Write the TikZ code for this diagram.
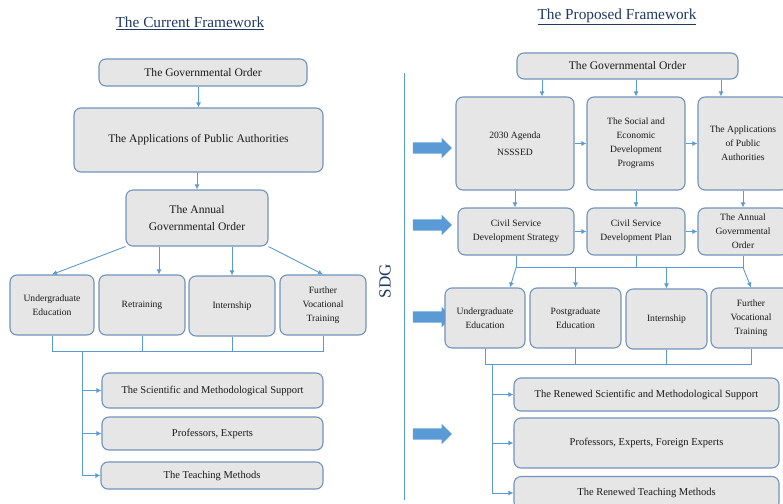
\documentclass[tikz,border=0pt]{standalone}
\usepackage{fontspec}
\setmainfont{Liberation Serif}
\usetikzlibrary{arrows.meta,shapes.arrows}

\definecolor{boxfill}{HTML}{E7E6E6}
\definecolor{boxline}{HTML}{7193BA}
\definecolor{linkblue}{HTML}{5B9BD5}
\definecolor{titleblue}{HTML}{1F3864}

\tikzset{
  box/.style={draw=boxline, fill=boxfill, line width=1.1pt, rounded corners=7pt, align=center, inner sep=1pt, text=black!90},
  bigtxt/.style={font=\fontsize{11.6}{17}\selectfont},
  midtxt/.style={font=\fontsize{10.5}{15}\selectfont},
  smalltxt/.style={font=\fontsize{9.6}{14}\selectfont},
  link/.style={draw=linkblue, line width=0.9pt},
  arr/.style={link, -{Latex[length=5pt,width=5pt]}},
  fatarrow/.style={single arrow, fill=linkblue, minimum height=39pt, minimum width=19pt, single arrow head extend=4.5pt, single arrow head indent=0pt, inner sep=5.5pt, font=\tiny}
}

\begin{document}
\begin{tikzpicture}[x=1pt,y=-1pt]
\useasboundingbox (0,0) rectangle (783,503);

% titles
\node[font=\fontsize{15.3}{18}\selectfont, text=titleblue] (curtitle) at (190,23) {\underline{The Current Framework}};
\node[font=\fontsize{15.3}{18}\selectfont, text=titleblue] (newtitle) at (617,17) {\underline{The Proposed Framework}};

% the current framework
\node[box, bigtxt, minimum width=208, minimum height=27] (gov) at (203,72.5) {The Governmental Order};
\node[box, bigtxt, minimum width=249, minimum height=64] (app) at (198.5,140) {The Applications of Public Authorities};
\node[box, bigtxt, minimum width=142, minimum height=56] (annual) at (197,218) {The Annual\\Governmental Order};
\node[box, smalltxt, minimum width=84, minimum height=60] (ug) at (52,305) {Undergraduate\\Education};
\node[box, smalltxt, minimum width=86, minimum height=60] (retr) at (142,305) {Retraining};
\node[box, smalltxt, minimum width=86, minimum height=60] (intern) at (232,306) {Internship};
\node[box, smalltxt, minimum width=86, minimum height=60] (further) at (323,305) {Further\\Vocational\\Training};
\node[box, midtxt, minimum width=221, minimum height=35] (sci) at (212.5,390.5) {The Scientific and Methodological Support};
\node[box, midtxt, minimum width=221, minimum height=33] (prof) at (212.5,433.5) {Professors, Experts};
\node[box, midtxt, minimum width=222, minimum height=27] (teach) at (212,475.5) {The Teaching Methods};

\draw[arr] (app.north |- gov.south) -- (app.north);
\draw[arr] (annual.north |- app.south) -- (annual.north);
\draw[arr] (annual.south west) -- (ug.north);
\draw[arr] ([xshift=17pt]retr.north |- annual.south) -- ([xshift=17pt]retr.north);
\draw[arr] (intern.north |- annual.south) -- (intern.north);
\draw[arr] (annual.south east) -- (further.north);

\coordinate (ltrunk) at ([xshift=30pt,yshift=-16pt]ug.south);
\draw[link] (ug.south) -- (ug.south |- ltrunk) -- (further.south |- ltrunk) -- (further.south);
\draw[link] (retr.south) -- (retr.south |- ltrunk);
\draw[link] (intern.south) -- (intern.south |- ltrunk);
\draw[link] (ltrunk) -- (ltrunk |- teach.west);
\draw[arr] (ltrunk |- sci.west) -- (sci.west);
\draw[arr] (ltrunk |- prof.west) -- (prof.west);
\draw[arr] (ltrunk |- teach.west) -- (teach.west);

% SDG
\node[rotate=90, font=\fontsize{17}{20}\selectfont, text=titleblue] (sdg) at (385,281) {SDG};
\draw[link] (404,73) -- (404,500);

\node[fatarrow] (fat1) at (429.5,148) {};
\node[fatarrow] (fat2) at (429.5,225) {};
\node[fatarrow] (fat3) at (429.5,317) {};
\node[fatarrow] (fat4) at (429.5,434) {};

% the proposed framework
\node[box, bigtxt, minimum width=221, minimum height=26] (rgov) at (627.5,66) {The Governmental Order};
\node[box, smalltxt, minimum width=118, minimum height=93] (agenda) at (515,143.5) {2030 Agenda\\[3pt]NSSSED};
\node[box, smalltxt, minimum width=98, minimum height=93] (social) at (636,143.5) {The Social and\\Economic\\Development\\Programs};
\node[box, smalltxt, minimum width=90, minimum height=93] (rapp) at (743,143.5) {The Applications\\of Public\\Authorities};
\node[box, smalltxt, minimum width=116, minimum height=47] (strat) at (516,231.5) {Civil Service\\Development Strategy};
\node[box, smalltxt, minimum width=98, minimum height=47] (plan) at (636,231.5) {Civil Service\\Development Plan};
\node[box, smalltxt, minimum width=90, minimum height=47] (rannual) at (743,231.5) {The Annual\\Governmental\\Order};
\node[box, smalltxt, minimum width=80, minimum height=60] (rug) at (485,318) {Undergraduate\\Education};
\node[box, smalltxt, minimum width=91, minimum height=60] (pg) at (575.5,318) {Postgraduate\\Education};
\node[box, smalltxt, minimum width=81, minimum height=60] (rint) at (666.5,319) {Internship};
\node[box, smalltxt, minimum width=80, minimum height=60] (rfur) at (751,318) {Further\\Vocational\\Training};
\node[box, midtxt, minimum width=265, minimum height=33] (rsci) at (646.5,394.5) {The Renewed Scientific and Methodological Support};
\node[box, midtxt, minimum width=265, minimum height=50] (rprof) at (646.5,443) {Professors, Experts, Foreign Experts};
\node[box, midtxt, minimum width=265, minimum height=33] (rteach) at (646.5,493) {The Renewed Teaching Methods};

\draw[arr] ([xshift=27pt]agenda.north |- rgov.south) -- ([xshift=27pt]agenda.north);
\draw[arr] (social.north |- rgov.south) -- (social.north);
\draw[arr] ([xshift=-22pt]rapp.north |- rgov.south) -- ([xshift=-22pt]rapp.north);
\draw[arr] (agenda.east) -- (social.west);
\draw[arr] (social.east) -- (rapp.west);
\draw[arr] (agenda.south) -- (agenda.south |- strat.north);
\draw[arr] (social.south) -- (social.south |- plan.north);
\draw[arr] (rapp.south) -- (rapp.south |- rannual.north);
\draw[arr] (strat.east) -- (plan.west);
\draw[arr] (plan.east) -- (rannual.west);

\coordinate (rbus) at ([yshift=-12pt]strat.south);
\draw[link] (strat.south) -- (rbus) -- (rannual.south |- rbus) -- (rannual.south);
\draw[link] (plan.south) -- (plan.south |- rbus);
\draw[arr] (rbus) -- ([xshift=25pt]rug.north);
\draw[arr] (pg.north |- rbus) -- (pg.north);
\draw[arr] (rint.north |- rbus) -- (rint.north);
\draw[arr] (rannual.south |- rbus) -- (rfur.north);

\coordinate (rtrunk) at ([xshift=7pt,yshift=-16pt]rug.south);
\draw[link] (rug.south) -- (rug.south |- rtrunk) -- (rfur.south |- rtrunk) -- (rfur.south);
\draw[link] (pg.south) -- (pg.south |- rtrunk);
\draw[link] (rint.south) -- (rint.south |- rtrunk);
\draw[link] (rtrunk) -- (rtrunk |- rteach.west);
\draw[arr] (rtrunk |- rsci.west) -- (rsci.west);
\draw[arr] (rtrunk |- rprof.west) -- (rprof.west);
\draw[arr] (rtrunk |- rteach.west) -- (rteach.west);
\end{tikzpicture}
\end{document}
